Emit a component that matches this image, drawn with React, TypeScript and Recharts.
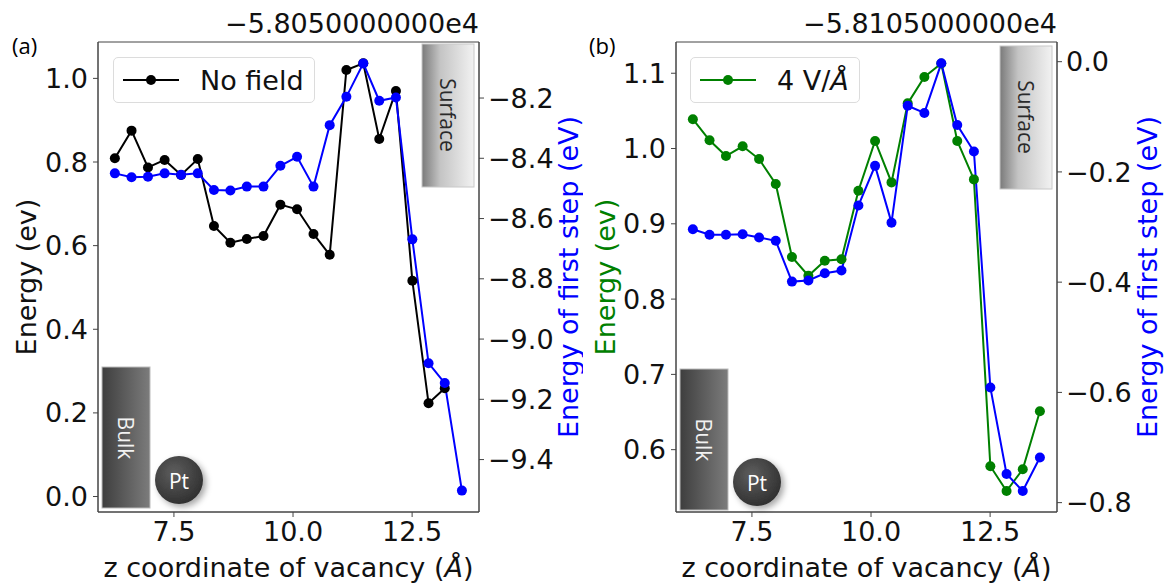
import React from "react";
import { LineChart, Line, XAxis, YAxis, Legend, ReferenceArea } from "recharts";

// z coordinate of the vacancy (Å), shared by both panels
const zCoord = [6.26, 6.61, 6.955, 7.305, 7.65, 8.0, 8.34, 8.685, 9.03, 9.38, 9.735, 10.085, 10.43, 10.77, 11.12, 11.475, 11.81, 12.16, 12.505, 12.845, 13.185, 13.545];

// panel (a)
const noField = [0.809, 0.875, 0.787, 0.805, 0.769, 0.807, 0.647, 0.607, 0.616, 0.623, 0.698, 0.687, 0.628, 0.578, 1.02, 1.036, 0.855, 0.97, 0.516, 0.223, 0.259];
const firstStepNoField = [-8.45, -8.463, -8.461, -8.45, -8.455, -8.45, -8.505, -8.507, -8.494, -8.494, -8.425, -8.395, -8.494, -8.29, -8.196, -8.085, -8.209, -8.198, -8.669, -9.08, -9.146, -9.503];

// panel (b)
const field4 = [1.039, 1.011, 0.99, 1.003, 0.986, 0.953, 0.856, 0.831, 0.851, 0.853, 0.944, 1.01, 0.955, 1.06, 1.095, 1.113, 1.01, 0.959, 0.578, 0.545, 0.574, 0.651];
const firstStepField4 = [-0.304, -0.314, -0.314, -0.313, -0.319, -0.325, -0.399, -0.397, -0.384, -0.379, -0.261, -0.189, -0.292, -0.08, -0.093, -0.003, -0.115, -0.163, -0.591, -0.748, -0.779, -0.718];

const xTicks = [7.5, 10.0, 12.5];
const leftTicksA = [0, 0.2, 0.4, 0.6, 0.8, 1.0];
const rightTicksA = [-9.4, -9.2, -9.0, -8.8, -8.6, -8.4, -8.2];
const leftTicksB = [0.6, 0.7, 0.8, 0.9, 1.0, 1.1];
const rightTicksB = [-0.8, -0.6, -0.4, -0.2, 0.0];
const offsetA = "\u22125.8050000000e4";
const offsetB = "\u22125.8105000000e4";

const xDomain: [number, number] = [5.906, 13.904];
const FONT = "'DejaVu Sans', sans-serif";
const AXIS = "#444";
const W = 583;
const H = 585;

const fmt = (v: number) => v.toFixed(1).replace("-", "\u2212");

function withAngstrom(s: string) {
  const parts = s.split("Å");
  return parts.map((p, i) => (
    <React.Fragment key={i}>
      {p}
      {i < parts.length - 1 && <tspan fontStyle="italic">Å</tspan>}
    </React.Fragment>
  ));
}

function LegendBox({ payload, width }: any) {
  const item = (payload || [])[0];
  if (!item) return null;
  const name: string = item.value;
  const parts = name.split("Å");
  return (
    <div
      style={{
        width,
        height: 46,
        boxSizing: "border-box",
        border: "1px solid #dcdcdc",
        borderRadius: 5,
        background: "rgba(255,255,255,0.85)",
        display: "flex",
        alignItems: "center",
        fontFamily: FONT,
        fontSize: 27,
        color: "#111",
      }}
    >
      <svg width={86} height={44} style={{ flex: "none" }}>
        <line x1={9} x2={65} y1={22} y2={22} stroke={item.color} strokeWidth={2} />
        <circle cx={37} cy={22} r={5} fill={item.color} />
      </svg>
      <span style={{ whiteSpace: "nowrap" }}>
        {parts.map((p, i) => (
          <React.Fragment key={i}>
            {p}
            {i < parts.length - 1 && <span style={{ fontStyle: "italic" }}>Å</span>}
          </React.Fragment>
        ))}
      </span>
    </div>
  );
}

type PanelProps = {
  left: number[];
  right: number[];
  leftName: string;
  leftColor: string;
  leftTitleColor: string;
  leftDomain: [number, number];
  leftTicks: number[];
  rightDomain: [number, number];
  rightTicks: number[];
  marginLeft: number;
  marginRight: number;
  legendLeft: number;
  legendWidth: number;
  leftTitleX: number;
  rightTitleX: number;
};

function Panel(p: PanelProps) {
  const rows = zCoord.map((z, i) => ({
    z,
    e: p.left[i] ?? null,
    s: p.right[i] ?? null,
  }));
  const plotLeft = p.marginLeft + 60;
  const plotRight = W - p.marginRight - 90;
  const midX = (plotLeft + plotRight) / 2;
  const midY = 277;
  const tick = { fill: "#111", fontSize: 27, fontFamily: FONT };

  return (
    <LineChart
      width={W}
      height={H}
      data={rows}
      margin={{ top: 42, right: p.marginRight, bottom: 33, left: p.marginLeft }}
    >
      <XAxis
        dataKey="z"
        type="number"
        domain={xDomain}
        ticks={xTicks}
        allowDataOverflow
        tickFormatter={fmt}
        height={40}
        tickSize={5}
        tickMargin={5}
        stroke={AXIS}
        tick={tick}
        label={() => (
          <text x={midX} y={577} textAnchor="middle" fontSize={27} fontFamily={FONT} fill="#111">
            {withAngstrom("z coordinate of vacancy (Å)")}
          </text>
        )}
      />
      <YAxis
        yAxisId="left"
        domain={p.leftDomain}
        ticks={p.leftTicks}
        allowDataOverflow
        tickFormatter={fmt}
        width={60}
        tickSize={5}
        tickMargin={5}
        stroke={AXIS}
        tick={tick}
        label={() => (
          <text
            x={p.leftTitleX}
            y={midY}
            transform={`rotate(-90 ${p.leftTitleX} ${midY})`}
            textAnchor="middle"
            fontSize={27}
            fontFamily={FONT}
            fill={p.leftTitleColor}
          >
            Energy (ev)
          </text>
        )}
      />
      <YAxis
        yAxisId="right"
        orientation="right"
        domain={p.rightDomain}
        ticks={p.rightTicks}
        allowDataOverflow
        tickFormatter={fmt}
        width={90}
        tickSize={5}
        tickMargin={4}
        stroke={AXIS}
        tick={tick}
        label={() => (
          <text
            x={p.rightTitleX}
            y={midY}
            transform={`rotate(-90 ${p.rightTitleX} ${midY})`}
            textAnchor="middle"
            fontSize={27}
            fontFamily={FONT}
            fill="#0000ff"
          >
            Energy of first step (eV)
          </text>
        )}
      />
      <ReferenceArea
        yAxisId="left"
        x1={xDomain[0]}
        x2={xDomain[1]}
        y1={p.leftDomain[0]}
        y2={p.leftDomain[1]}
        fill="none"
        stroke={AXIS}
        strokeWidth={1}
        ifOverflow="visible"
      />
      <Legend
        layout="horizontal"
        align="center"
        verticalAlign="middle"
        wrapperStyle={{ left: p.legendLeft, top: 57, width: p.legendWidth, height: 46 }}
        content={(props: any) => <LegendBox {...props} width={p.legendWidth} />}
      />
      <Line
        yAxisId="left"
        dataKey="e"
        name={p.leftName}
        type="linear"
        stroke={p.leftColor}
        strokeWidth={2}
        dot={{ r: 5, fill: p.leftColor, stroke: p.leftColor, strokeWidth: 0 }}
        isAnimationActive={false}
      />
      <Line
        yAxisId="right"
        dataKey="s"
        name="first step"
        type="linear"
        legendType="none"
        stroke="#0000ff"
        strokeWidth={2}
        dot={{ r: 5, fill: "#0000ff", stroke: "#0000ff", strokeWidth: 0 }}
        isAnimationActive={false}
      />
    </LineChart>
  );
}

function Overlay() {
  const label = { fontFamily: "'Open Sans', 'Noto Sans', sans-serif", fontSize: 22 };
  const surface = (x: number, y: number) => (
    <g>
      <rect x={x} y={y} width={52} height={143} fill="url(#surfGrad)" stroke="#c8c8c8" />
      <text
        x={x + 26}
        y={y + 71}
        transform={`rotate(90 ${x + 26} ${y + 71})`}
        textAnchor="middle"
        dominantBaseline="central"
        fill="#2a2a2a"
        {...label}
        fontSize={21}
      >
        Surface
      </text>
    </g>
  );
  const bulk = (x: number, y: number) => (
    <g>
      <rect x={x} y={y} width={48} height={141} fill="url(#bulkGrad)" stroke="#bbb" />
      <text
        x={x + 24}
        y={y + 71}
        transform={`rotate(90 ${x + 24} ${y + 71})`}
        textAnchor="middle"
        dominantBaseline="central"
        fill="#f2f2f2"
        {...label}
        fontSize={21}
      >
        Bulk
      </text>
    </g>
  );
  const pt = (cx: number, cy: number) => (
    <g>
      <circle cx={cx} cy={cy} r={24} fill="url(#ptGrad)" filter="url(#ptShadow)" />
      <text x={cx} y={cy + 1} textAnchor="middle" dominantBaseline="central" fill="#fff" {...label} fontSize={21}>
        Pt
      </text>
    </g>
  );
  return (
    <svg
      width={1166}
      height={585}
      style={{ position: "absolute", left: 0, top: 0, pointerEvents: "none" }}
    >
      <defs>
        <linearGradient id="surfGrad" x1="0" x2="1" y1="0" y2="0">
          <stop offset="0" stopColor="#7a7a7a" />
          <stop offset="0.35" stopColor="#c4c4c4" />
          <stop offset="1" stopColor="#f2f2f2" />
        </linearGradient>
        <linearGradient id="bulkGrad" x1="0" x2="1" y1="0" y2="0">
          <stop offset="0" stopColor="#3e3e3e" />
          <stop offset="1" stopColor="#7c7c7c" />
        </linearGradient>
        <radialGradient id="ptGrad" cx="0.4" cy="0.35" r="0.7">
          <stop offset="0" stopColor="#5e5e5e" />
          <stop offset="1" stopColor="#2e2e2e" />
        </radialGradient>
        <filter id="ptShadow" x="-50%" y="-50%" width="200%" height="200%">
          <feDropShadow dx={3} dy={3} stdDeviation={3} floodColor="#000" floodOpacity={0.35} />
        </filter>
      </defs>
      <text x={12} y={54} {...label}>(a)</text>
      <text x={589} y={54} {...label}>(b)</text>
      <text x={479} y={33} textAnchor="end" fontFamily={FONT} fontSize={27} fill="#111">{offsetA}</text>
      <text x={1057} y={33} textAnchor="end" fontFamily={FONT} fontSize={27} fill="#111">{offsetB}</text>
      {surface(422, 44)}
      {surface(1000, 46)}
      {bulk(102, 367)}
      {bulk(680, 369)}
      {pt(179, 480)}
      {pt(757, 482)}
    </svg>
  );
}

export default function App() {
  return (
    <div
      style={{
        position: "absolute",
        left: 0,
        top: 0,
        width: 1166,
        height: 585,
        background: "#fff",
        fontFamily: FONT,
      }}
    >
      <div style={{ position: "absolute", left: 0, top: 0 }}>
        <Panel
          left={noField}
          right={firstStepNoField}
          leftName="No field"
          leftColor="#000000"
          leftTitleColor="#111"
          leftDomain={[-0.037, 1.087]}
          leftTicks={leftTicksA}
          rightDomain={[-9.574, -8.014]}
          rightTicks={rightTicksA}
          marginLeft={38}
          marginRight={14}
          legendLeft={113}
          legendWidth={202}
          leftTitleX={36}
          rightTitleX={578}
        />
      </div>
      <div style={{ position: "absolute", left: W, top: 0 }}>
        <Panel
          left={field4}
          right={firstStepField4}
          leftName="4 V/Å"
          leftColor="#008000"
          leftTitleColor="#008000"
          leftDomain={[0.5172, 1.1415]}
          leftTicks={leftTicksB}
          rightDomain={[-0.817, 0.0357]}
          rightTicks={rightTicksB}
          marginLeft={33}
          marginRight={19}
          legendLeft={107}
          legendWidth={170}
          leftTitleX={32}
          rightTitleX={574}
        />
      </div>
      <Overlay />
    </div>
  );
}
